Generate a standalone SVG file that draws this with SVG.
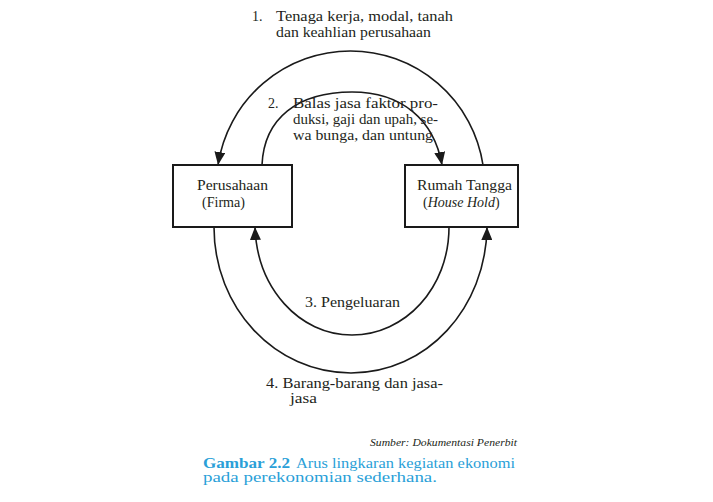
<svg xmlns="http://www.w3.org/2000/svg" width="713" height="502" viewBox="0 0 713 502">
<style>
.t{font-family:"Liberation Serif","DejaVu Serif",serif;font-size:14px;fill:#231f20}
.box{fill:#fff;stroke:#1a1a1a;stroke-width:2}
.arc{fill:none;stroke:#1a1a1a;stroke-width:1.6}
.src{font-family:"Liberation Serif",serif;font-size:10.5px;font-style:italic;fill:#231f20}
.cap{font-family:"Liberation Serif",serif;font-size:14px;fill:#2a9fd8}
</style>
<defs>
<marker id="ah" markerUnits="userSpaceOnUse" markerWidth="13" markerHeight="11" refX="13" refY="5.5" orient="auto">
<path d="M0,0 L13,5.5 L0,11 z" fill="#1a1a1a"/>
</marker>
</defs>
<rect width="713" height="502" fill="#fff"/>
<g id="connectors">
<path class="arc" d="M483 165 A134 134 0 0 0 218 165" marker-end="url(#ah)"/>
<path class="arc" d="M262 165 C264 118 298 92 352 92 C402 92 434 120 442 165" marker-end="url(#ah)"/>
<path class="arc" d="M449 227 C449 288 405 335 352 335 C299 335 257 288 255 227" marker-end="url(#ah)"/>
<path class="arc" d="M214 227 C214 308 275 373 351 373 C427 373 486 308 487 227" marker-end="url(#ah)"/>
</g>
<g id="firma">
<rect class="box" x="173" y="165" width="119" height="62"/>
<text class="t" x="197" y="190" textLength="71" lengthAdjust="spacingAndGlyphs">Perusahaan</text>
<text class="t" x="202" y="207" textLength="43" lengthAdjust="spacingAndGlyphs">(Firma)</text>
</g>
<g id="rumah">
<rect class="box" x="405" y="165" width="113" height="62"/>
<text class="t" x="417" y="190" textLength="95" lengthAdjust="spacingAndGlyphs">Rumah Tangga</text>
<text class="t" x="423" y="207">(<tspan font-style="italic">House Hold</tspan>)</text>
</g>
<g id="label1">
<text class="t" x="252" y="20.5">1.</text>
<text class="t" x="276" y="20.5" textLength="177" lengthAdjust="spacingAndGlyphs">Tenaga kerja, modal, tanah</text>
<text class="t" x="276" y="37" textLength="155" lengthAdjust="spacingAndGlyphs">dan keahlian perusahaan</text>
</g>
<g id="label2">
<text class="t" x="268" y="108">2.</text>
<text class="t" x="293" y="108" textLength="145" lengthAdjust="spacingAndGlyphs">Balas jasa faktor pro-</text>
<text class="t" x="293" y="124" textLength="145" lengthAdjust="spacingAndGlyphs">duksi, gaji dan upah, se-</text>
<text class="t" x="293" y="139.5" textLength="140" lengthAdjust="spacingAndGlyphs">wa bunga, dan untung</text>
</g>
<g id="label3">
<text class="t" x="305" y="307" textLength="95" lengthAdjust="spacingAndGlyphs">3. Pengeluaran</text>
</g>
<g id="label4">
<text class="t" x="266" y="388" textLength="177" lengthAdjust="spacingAndGlyphs">4. Barang-barang dan jasa-</text>
<text class="t" x="290" y="403" textLength="27" lengthAdjust="spacingAndGlyphs">jasa</text>
</g>
<text class="src" x="517" y="446" text-anchor="end" textLength="147" lengthAdjust="spacingAndGlyphs">Sumber: Dokumentasi Penerbit</text>
<text class="cap" x="203" y="468" font-weight="bold" textLength="87" lengthAdjust="spacingAndGlyphs">Gambar 2.2</text>
<text class="cap" x="296" y="468" textLength="219" lengthAdjust="spacingAndGlyphs">Arus lingkaran kegiatan ekonomi</text>
<text class="cap" x="203" y="482" textLength="234" lengthAdjust="spacingAndGlyphs">pada perekonomian sederhana.</text>
</svg>
